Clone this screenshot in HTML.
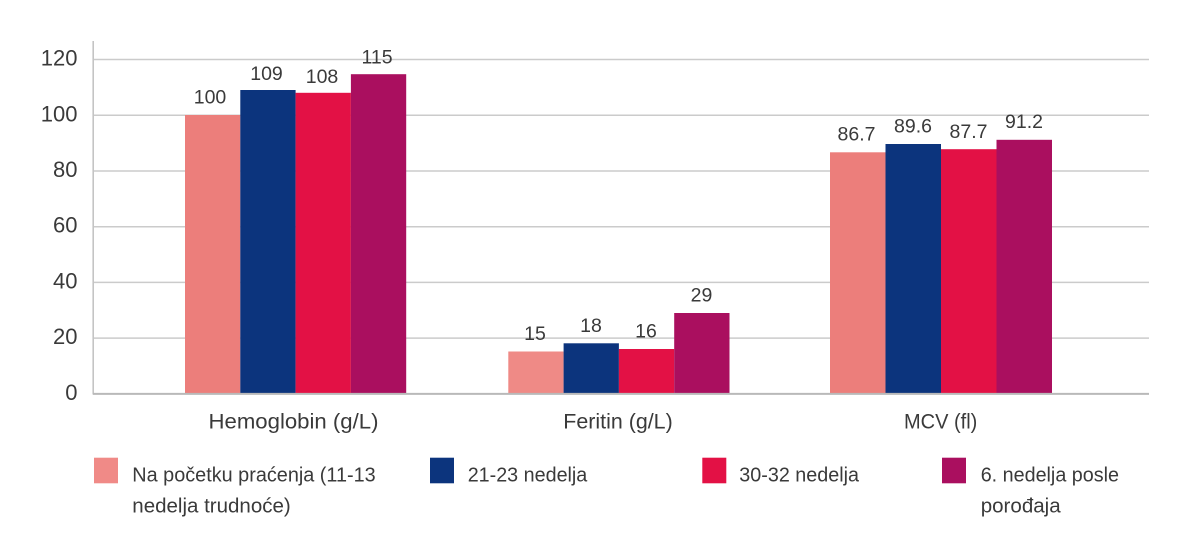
<!DOCTYPE html>
<html>
<head>
<meta charset="utf-8">
<style>
html,body{margin:0;padding:0;background:#fff;}
svg{display:block;}
text{font-family:"Liberation Sans",Arial,sans-serif;fill:#3a3a3a;}
</style>
</head>
<body>
<svg width="1200" height="550" viewBox="0 0 1200 550" xmlns="http://www.w3.org/2000/svg">
  <!-- gridlines -->
  <g stroke="#cbcbcb" stroke-width="1.5">
    <line x1="93" y1="59.5" x2="1149" y2="59.5"/>
    <line x1="93" y1="115.3" x2="1149" y2="115.3"/>
    <line x1="93" y1="171" x2="1149" y2="171"/>
    <line x1="93" y1="226.7" x2="1149" y2="226.7"/>
    <line x1="93" y1="282.4" x2="1149" y2="282.4"/>
    <line x1="93" y1="338.1" x2="1149" y2="338.1"/>
  </g>
  <!-- y axis -->
  <line x1="93.2" y1="41" x2="93.2" y2="394.5" stroke="#c4c4c4" stroke-width="1.6"/>

  <!-- bars Hemoglobin -->
  <rect x="185" y="115.0" width="55.3" height="278.7" fill="#ec7e7b"/>
  <rect x="240.3" y="90.0" width="55.3" height="303.7" fill="#0c347d"/>
  <rect x="295.6" y="92.8" width="55.3" height="300.9" fill="#e31145"/>
  <rect x="350.9" y="74.2" width="55.3" height="319.5" fill="#aa0f5f"/>

  <!-- bars Feritin -->
  <rect x="508.3" y="351.5" width="55.3" height="42.2" fill="#ef8a86"/>
  <rect x="563.6" y="343.3" width="55.3" height="50.4" fill="#0c347d"/>
  <rect x="618.9" y="349.0" width="55.3" height="44.7" fill="#e31145"/>
  <rect x="674.2" y="313.0" width="55.3" height="80.7" fill="#aa0f5f"/>

  <!-- bars MCV -->
  <rect x="830" y="152.3" width="55.5" height="241.4" fill="#ec7e7b"/>
  <rect x="885.5" y="144.0" width="55.5" height="249.7" fill="#0c347d"/>
  <rect x="941" y="149.2" width="55.5" height="244.5" fill="#e31145"/>
  <rect x="996.5" y="139.8" width="55.5" height="253.9" fill="#aa0f5f"/>

  <!-- x axis -->
  <line x1="93" y1="393.9" x2="1149" y2="393.9" stroke="#b9b9b9" stroke-width="2"/>

  <!-- y tick labels -->
  <g font-size="22" text-anchor="end">
    <text x="77.5" y="65.5">120</text>
    <text x="77.5" y="121.3">100</text>
    <text x="77.5" y="177">80</text>
    <text x="77.5" y="232.7">60</text>
    <text x="77.5" y="288.4">40</text>
    <text x="77.5" y="344.1">20</text>
    <text x="77.5" y="400">0</text>
  </g>

  <!-- value labels -->
  <g font-size="19.5" text-anchor="middle">
    <text x="210" y="103.5">100</text>
    <text x="266.5" y="80">109</text>
    <text x="322" y="83">108</text>
    <text x="377" y="63.5">115</text>

    <text x="535" y="340">15</text>
    <text x="591" y="332">18</text>
    <text x="646" y="337.5">16</text>
    <text x="701.5" y="301.5">29</text>

    <text x="856.5" y="140.5">86.7</text>
    <text x="913" y="132.5">89.6</text>
    <text x="968.5" y="138">87.7</text>
    <text x="1024" y="128">91.2</text>
  </g>

  <!-- category labels -->
  <g font-size="21">
    <text x="208.5" y="428.5" textLength="170" lengthAdjust="spacingAndGlyphs">Hemoglobin (g/L)</text>
    <text x="563.3" y="428.5" textLength="109.4" lengthAdjust="spacingAndGlyphs">Feritin (g/L)</text>
    <text x="904" y="428.5" textLength="73.3" lengthAdjust="spacingAndGlyphs">MCV (fl)</text>
  </g>

  <!-- legend -->
  <rect x="94" y="457.7" width="24" height="25.6" fill="#f08a87"/>
  <rect x="430" y="457.7" width="24" height="25.6" fill="#0c347d"/>
  <rect x="702.3" y="457.7" width="24" height="25.6" fill="#e31145"/>
  <rect x="942" y="457.7" width="24" height="25.6" fill="#aa0f5f"/>
  <g font-size="20.5">
    <text x="132.3" y="481.7" textLength="243.4" lengthAdjust="spacingAndGlyphs">Na početku praćenja (11-13</text>
    <text x="132.3" y="512.7" textLength="158.4" lengthAdjust="spacingAndGlyphs">nedelja trudnoće)</text>
    <text x="467.7" y="481.7" textLength="119.6" lengthAdjust="spacingAndGlyphs">21-23 nedelja</text>
    <text x="739.3" y="481.7" textLength="119.7" lengthAdjust="spacingAndGlyphs">30-32 nedelja</text>
    <text x="980.7" y="481.7" textLength="138.3" lengthAdjust="spacingAndGlyphs">6. nedelja posle</text>
    <text x="980.7" y="512.7" textLength="80" lengthAdjust="spacingAndGlyphs">porođaja</text>
  </g>
</svg>
</body>
</html>
